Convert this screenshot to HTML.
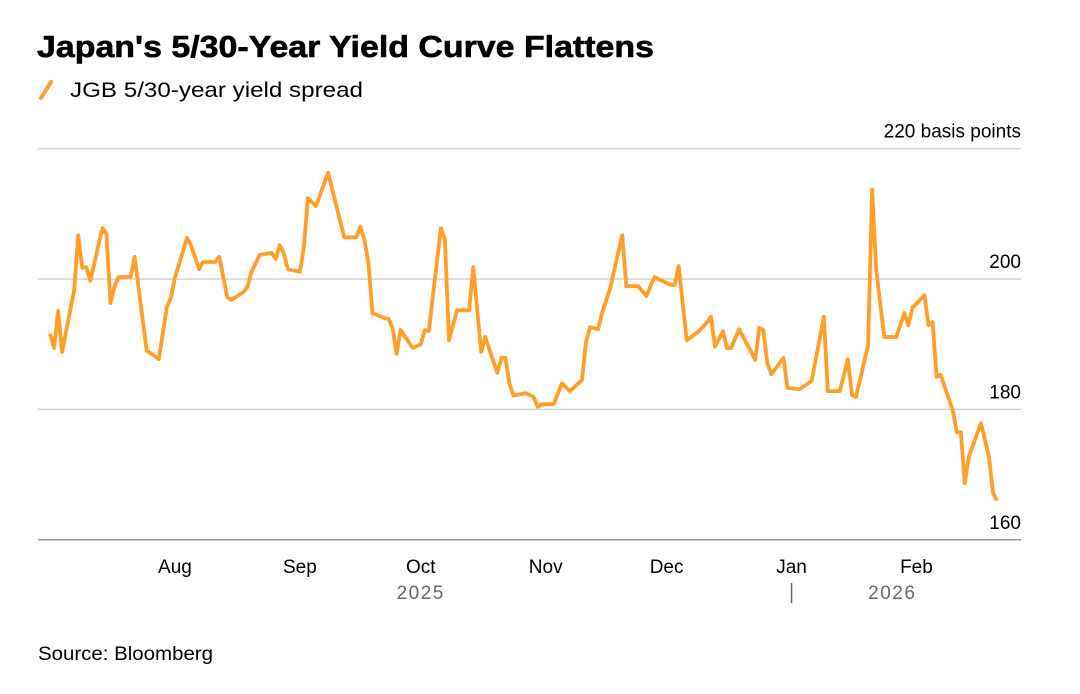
<!DOCTYPE html>
<html><head><meta charset="utf-8"><style>
body{margin:0;background:#fff;width:1080px;height:689px;overflow:hidden;font-family:"Liberation Sans",Arial,sans-serif}
</style></head><body>
<svg width="1080" height="689" style="font-family:'Liberation Sans',Arial,sans-serif">
<text x="37" y="57" font-size="31" font-weight="bold" fill="#000" textLength="617" lengthAdjust="spacingAndGlyphs" stroke="#000" stroke-width="0.6">Japan's 5/30-Year Yield Curve Flattens</text>
<g>
<line x1="41" y1="98" x2="51" y2="82" stroke="#ff9f2a" stroke-width="4" stroke-linecap="round"/>
<text x="70" y="97" font-size="21" fill="#000" textLength="293" lengthAdjust="spacingAndGlyphs">JGB 5/30-year yield spread</text>
</g>
<g id="grid"></g>
<g id="xaxis"></g>
<path id="line" fill="none" stroke="#ff9f2a" stroke-width="3.8" stroke-linejoin="round"/>
<text x="38" y="660" font-size="19" fill="#000" textLength="175" lengthAdjust="spacingAndGlyphs">Source: Bloomberg</text>
</svg>
<script>
const days=[0,1,2,3,6,7,8,9,10,13,14,15,16,17,20,21,24,27,29,30,31,34,35,37,38,41,42,44,45,48,49,50,52,55,56,57,58,59,62,63,64,66,69,73,76,77,78,79,80,83,84,85,86,87,90,92,93,94,97,98,99,101,104,105,107,108,111,112,113,114,115,118,120,121,122,125,127,129,132,133,134,136,137,139,141,142,143,146,148,150,154,155,156,158,161,163,164,165,167,168,169,171,175,176,177,178,179,182,183,186,189,192,193,196,198,199,200,203,204,205,207,210,212,213,214,217,218,219,220,221,224,225,226,227,228,231,233,234,235];
const values=[191.6,189.4,195.1,188.8,198.3,206.7,201.7,201.8,199.7,207.8,206.9,196.3,198.8,200.3,200.3,203.4,189.0,187.7,195.7,197.1,200.2,206.3,205.1,201.5,202.6,202.6,203.4,197.2,196.8,198.0,198.8,201.1,203.7,204.0,203.1,205.2,204.0,201.5,201.1,204.9,212.4,211.2,216.3,206.4,206.4,208.0,206.1,202.5,194.8,194.0,193.9,192.5,188.5,192.2,189.4,190.0,192.2,192.0,207.8,206.1,190.6,195.2,195.2,201.8,188.8,191.1,185.6,187.9,187.9,184.0,182.1,182.5,181.9,180.4,180.8,180.8,184.0,182.8,184.5,190.3,192.6,192.3,194.8,198.6,204.0,206.7,198.9,198.9,197.4,200.3,199.1,199.1,202.0,190.6,192.0,193.3,194.2,189.6,192.0,189.4,189.4,192.3,187.6,192.5,192.2,187.1,185.4,187.9,183.3,183.1,184.4,194.2,182.8,182.8,187.7,182.2,181.9,189.9,213.7,201.4,191.1,191.1,194.8,192.9,195.6,197.5,192.9,193.4,185.0,185.3,179.9,176.5,176.5,168.7,172.7,177.9,172.7,167.2,166.0];
const yTicks=[220,200,180,160];
const yTickLabels=["220 basis points","200","180","160"];
const months=["Aug","Sep","Oct","Nov","Dec","Jan","Feb"];
const monthDays=[31,62,92,123,153,184,215];
const years=["2025","2026"];
const yearDays=[92,209];
const NS="http://www.w3.org/2000/svg";
const xOf=d=>50+d*4.03;
const yOf=v=>279-(v-200)*6.52;
function mk(tag,attrs,parent,text){const e=document.createElementNS(NS,tag);for(const k in attrs)e.setAttribute(k,attrs[k]);if(text!==undefined)e.textContent=text;parent.appendChild(e);return e;}
const grid=document.getElementById('grid');
yTicks.forEach((t,i)=>{
  const y=yOf(t);
  const last=i===yTicks.length-1;
  const l=mk('line',{x1:38,x2:1021,y1:y,y2:y,stroke:last?'#999':'#d0d0d0','stroke-width':1.5},grid);
  
  
  const tx=mk('text',{x:1021,y:y-11,'text-anchor':'end','font-size':19,fill:'#000'},grid,yTickLabels[i]);
  
  
});
const xa=document.getElementById('xaxis');
months.forEach((m,i)=>{
  const t=mk('text',{x:xOf(monthDays[i]),y:573,'text-anchor':'middle','font-size':19,fill:'#000'},xa,m);
  
  
});
years.forEach((yr,i)=>{
  const t=mk('text',{x:xOf(yearDays[i]),y:599,'text-anchor':'middle','font-size':19,fill:'#666','letter-spacing':'1.5'},xa,yr);
  
  
});
const sep=mk('line',{x1:xOf(184),x2:xOf(184),y1:583,y2:603,stroke:'#666','stroke-width':1.5},xa);


document.getElementById('line').setAttribute('d',days.map((d,i)=>(i?'L':'M')+xOf(d).toFixed(1)+','+yOf(values[i]).toFixed(1)).join(''));
</script>
</body></html>
